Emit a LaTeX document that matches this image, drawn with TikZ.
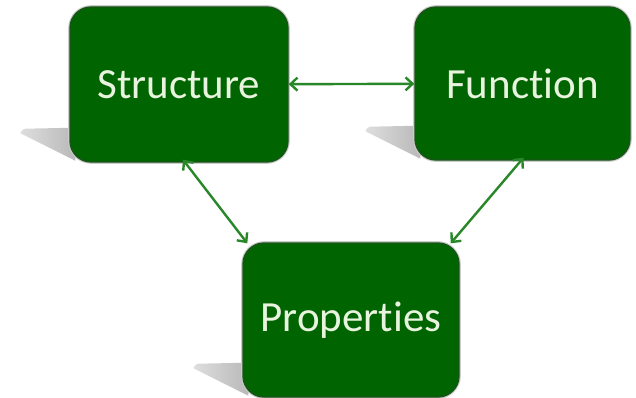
\documentclass[tikz,border=0pt]{standalone}
\usepackage{fontspec}
\setmainfont{Carlito}[Ligatures=CommonOff]
\usetikzlibrary{arrows.meta,fadings,calc,backgrounds}
\definecolor{boxgreen}{RGB}{0,100,0}
\definecolor{boxedge}{RGB}{25,85,25}
\definecolor{txtcol}{RGB}{232,244,222}
\definecolor{arrcol}{RGB}{40,135,40}
\definecolor{shadowcol}{RGB}{185,185,185}
\tikzfading[name=shfade, left color=transparent!55, right color=transparent!0]
\begin{document}
\begin{tikzpicture}[x=1pt,y=-1pt,
  gbox/.style={draw=boxedge, line width=1.4pt, fill=boxgreen, rounded corners=21pt,
    preaction={draw=gray!40, line width=3.6pt},
    text=txtcol, font=\fontsize{43}{50}\selectfont, inner sep=0pt},
  link/.style={draw=arrcol, line width=2.4pt, {Straight Barb[length=7pt,width=13pt]}-{Straight Barb[length=7pt,width=13pt]}},
  shad/.style={fill=shadowcol, path fading=shfade}]
\useasboundingbox (0,0) rectangle (636,398);
\node[gbox, minimum width=218pt, minimum height=155pt] (s) at (179,84.5) {Structure};
\node[gbox, minimum width=215pt, minimum height=153pt] (f) at (522.5,83.5) {Function};
\node[gbox, minimum width=216pt, minimum height=154pt] (p) at (351,320) {Properties};
\begin{scope}[on background layer]
  \fill[white] (0,0) rectangle (636,398);
  \foreach \n in {s,f,p}{
    \fill[shad] ($(\n.south west)+(6,-35)$) -- ($(\n.south west)+(-44,-34)$)
      to[out=180,in=180] ($(\n.south west)+(-48,-29)$) -- ($(\n.south west)+(6,-2)$) -- cycle;
  }
\end{scope}
\draw[link] (s) -- (f);
\draw[link] ([xshift=4pt,yshift=3pt]s.south) -- ([xshift=5pt,yshift=-1pt]p.north west);
\draw[link] ([xshift=1pt,yshift=3pt]f.south) -- ([xshift=-9pt,yshift=-1pt]p.north east);
\end{tikzpicture}
\end{document}
